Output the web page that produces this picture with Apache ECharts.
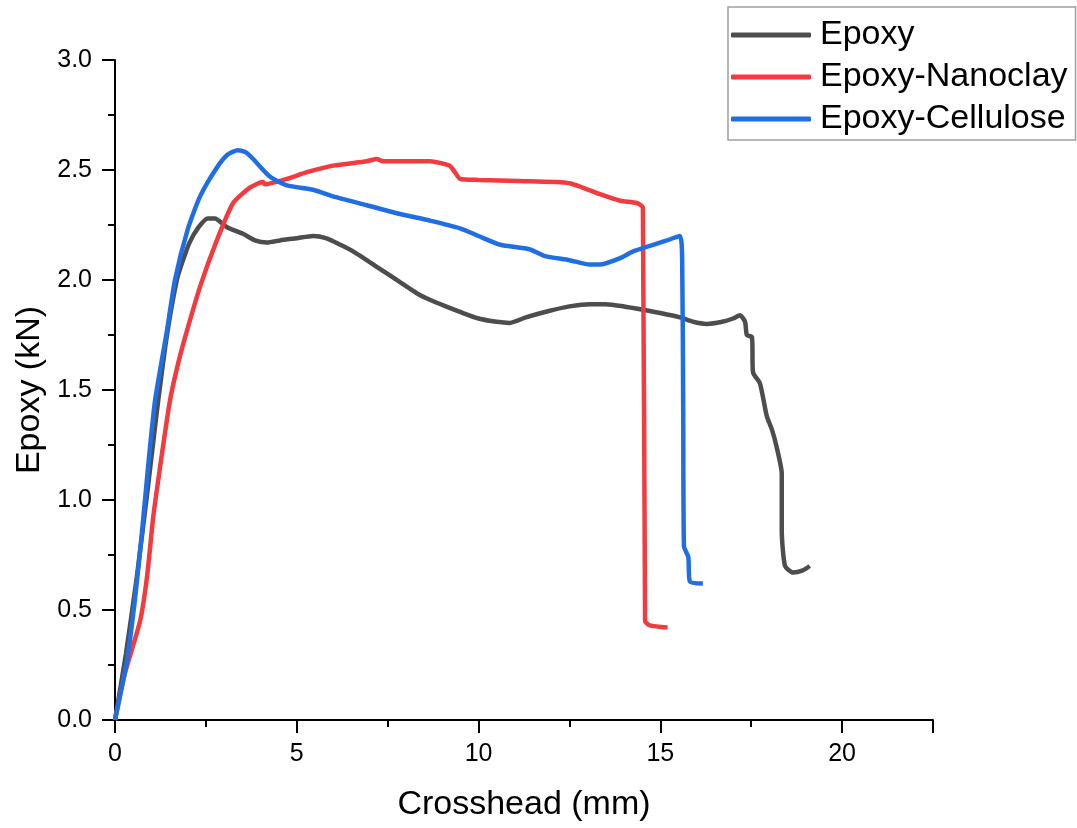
<!DOCTYPE html>
<html><head><meta charset="utf-8">
<script src="https://cdn.jsdelivr.net/npm/echarts@6/dist/echarts.min.js"></script>
<style>html,body{margin:0;padding:0;background:#fff}#c{width:1077px;height:828px}</style>
</head><body><div id="c"></div>
<script>
const seriesNames = ['Epoxy', 'Epoxy-Nanoclay', 'Epoxy-Cellulose'];
const xTickLabels = ['0', '5', '10', '15', '20'];
const yTickLabels = ['0.0', '0.5', '1.0', '1.5', '2.0', '2.5', '3.0'];

const epoxyData = [[0,0],[0.3,0.3],[0.6,0.65],[0.9,1.05],[1.15,1.4],[1.43,1.75],[1.7,2.0],[1.85,2.08],[2.05,2.17],[2.3,2.24],[2.55,2.28],[2.75,2.28],[3.08,2.24],[3.52,2.21],[3.85,2.18],[4.18,2.17],[4.54,2.18],[5.0,2.19],[5.45,2.20],[5.8,2.19],[6.2,2.16],[6.55,2.13],[7.2,2.06],[7.84,1.99],[8.3,1.94],[8.66,1.91],[9.1,1.88],[9.49,1.855],[10,1.825],[10.5,1.81],[10.86,1.805],[11.3,1.83],[11.96,1.86],[12.5,1.88],[13.06,1.89],[13.5,1.89],[14.0,1.88],[14.52,1.865],[15.0,1.85],[15.54,1.83],[15.9,1.81],[16.28,1.80],[16.7,1.81],[17.0,1.825],[17.19,1.84],[17.33,1.81],[17.38,1.75],[17.52,1.74],[17.55,1.58],[17.74,1.53],[17.93,1.38],[18.07,1.32],[18.2,1.24],[18.34,1.12],[18.34,0.86],[18.43,0.70],[18.65,0.67],[18.92,0.68],[19.11,0.70]];

const nanoclayData = [[0,0],[0.27,0.21],[0.69,0.45],[0.88,0.65],[1.05,0.92],[1.24,1.15],[1.51,1.45],[1.75,1.63],[1.98,1.77],[2.34,1.97],[2.8,2.18],[3.25,2.35],[3.71,2.42],[4.07,2.445],[4.12,2.435],[4.73,2.46],[5.28,2.49],[6.0,2.52],[6.93,2.54],[7.2,2.55],[7.37,2.54],[7.84,2.54],[8.66,2.54],[9.2,2.52],[9.35,2.49],[9.49,2.46],[10,2.455],[11.1,2.45],[12.5,2.44],[13.34,2.39],[13.9,2.36],[14.35,2.35],[14.52,2.33],[14.58,0.45],[14.71,0.43],[15.2,0.42]];

const celluloseData = [[0,0],[0.15,0.12],[0.33,0.27],[0.55,0.55],[0.74,0.85],[0.91,1.15],[1.1,1.45],[1.43,1.77],[1.65,2.0],[2.0,2.23],[2.34,2.38],[2.8,2.51],[3.1,2.57],[3.38,2.59],[3.6,2.58],[3.8,2.55],[4.26,2.47],[4.73,2.43],[5.45,2.41],[6.0,2.38],[6.93,2.34],[7.84,2.30],[8.66,2.27],[9.49,2.235],[10,2.20],[10.6,2.16],[11.4,2.14],[11.8,2.11],[12.5,2.09],[13.06,2.07],[13.34,2.07],[13.9,2.10],[14.25,2.13],[14.8,2.16],[15.18,2.18],[15.54,2.20],[15.6,2.1],[15.63,1.39],[15.65,0.79],[15.77,0.74],[15.81,0.63],[16.17,0.62]];

const colors = ['#4d4d4d', '#f23b3f', '#1f6fe3'];
const font = 'Liberation Sans, Arial, sans-serif';

const chart = echarts.init(document.getElementById('c'), null, {renderer: 'canvas'});
const axisCommon = {
  axisLine: {show: true, onZero: false, lineStyle: {color: '#000', width: 2}},
  axisTick: {show: true, inside: false, length: 13, lineStyle: {color: '#000', width: 2}},
  minorTick: {show: true, splitNumber: 2, length: 7, lineStyle: {color: '#000', width: 2}},
  splitLine: {show: false},
  axisLabel: {color: '#000', fontSize: 25, fontFamily: font},
  nameLocation: 'middle',
  nameTextStyle: {color: '#000', fontSize: 34, fontFamily: font}
};
chart.setOption({
  animation: false,
  color: colors,
  grid: {left: 115, right: 144, top: 60, bottom: 108},
  xAxis: Object.assign({}, axisCommon, {
    type: 'value', min: 0, max: 22.5, interval: 5,
    name: 'Crosshead (mm)', nameGap: 68,
    axisLabel: Object.assign({}, axisCommon.axisLabel, {margin: 22,
      formatter: v => { const i = xTickLabels.indexOf(String(v)); return i >= 0 ? xTickLabels[i] : ''; }})
  }),
  yAxis: Object.assign({}, axisCommon, {
    type: 'value', min: 0, max: 3, interval: 0.5,
    name: 'Epoxy (kN)', nameGap: 67,
    axisLabel: Object.assign({}, axisCommon.axisLabel, {margin: 23,
      formatter: v => yTickLabels[Math.round(v / 0.5)]})
  }),
  legend: {
    show: true, orient: 'vertical', left: 728, top: 7,
    backgroundColor: '#fff', borderColor: '#a0a0a0', borderWidth: 1.5, borderRadius: 0,
    padding: [10, 8, 3, 3], itemGap: 6, itemWidth: 80, itemHeight: 5,
    icon: 'roundRect',
    textStyle: {color: '#000', fontSize: 34, lineHeight: 36, fontFamily: font, padding: [0, 0, 0, 4]},
    data: seriesNames
  },
  series: [
    {name: seriesNames[0], type: 'line', data: epoxyData, symbol: 'none', smooth: 0.2, lineStyle: {width: 4.5, color: colors[0]}, itemStyle: {color: colors[0]}, z: 3},
    {name: seriesNames[1], type: 'line', data: nanoclayData, symbol: 'none', smooth: 0.2, lineStyle: {width: 4.5, color: colors[1]}, itemStyle: {color: colors[1]}, z: 4},
    {name: seriesNames[2], type: 'line', data: celluloseData, symbol: 'none', smooth: 0.2, lineStyle: {width: 4.5, color: colors[2]}, itemStyle: {color: colors[2]}, z: 5}
  ]
});
</script></body></html>
